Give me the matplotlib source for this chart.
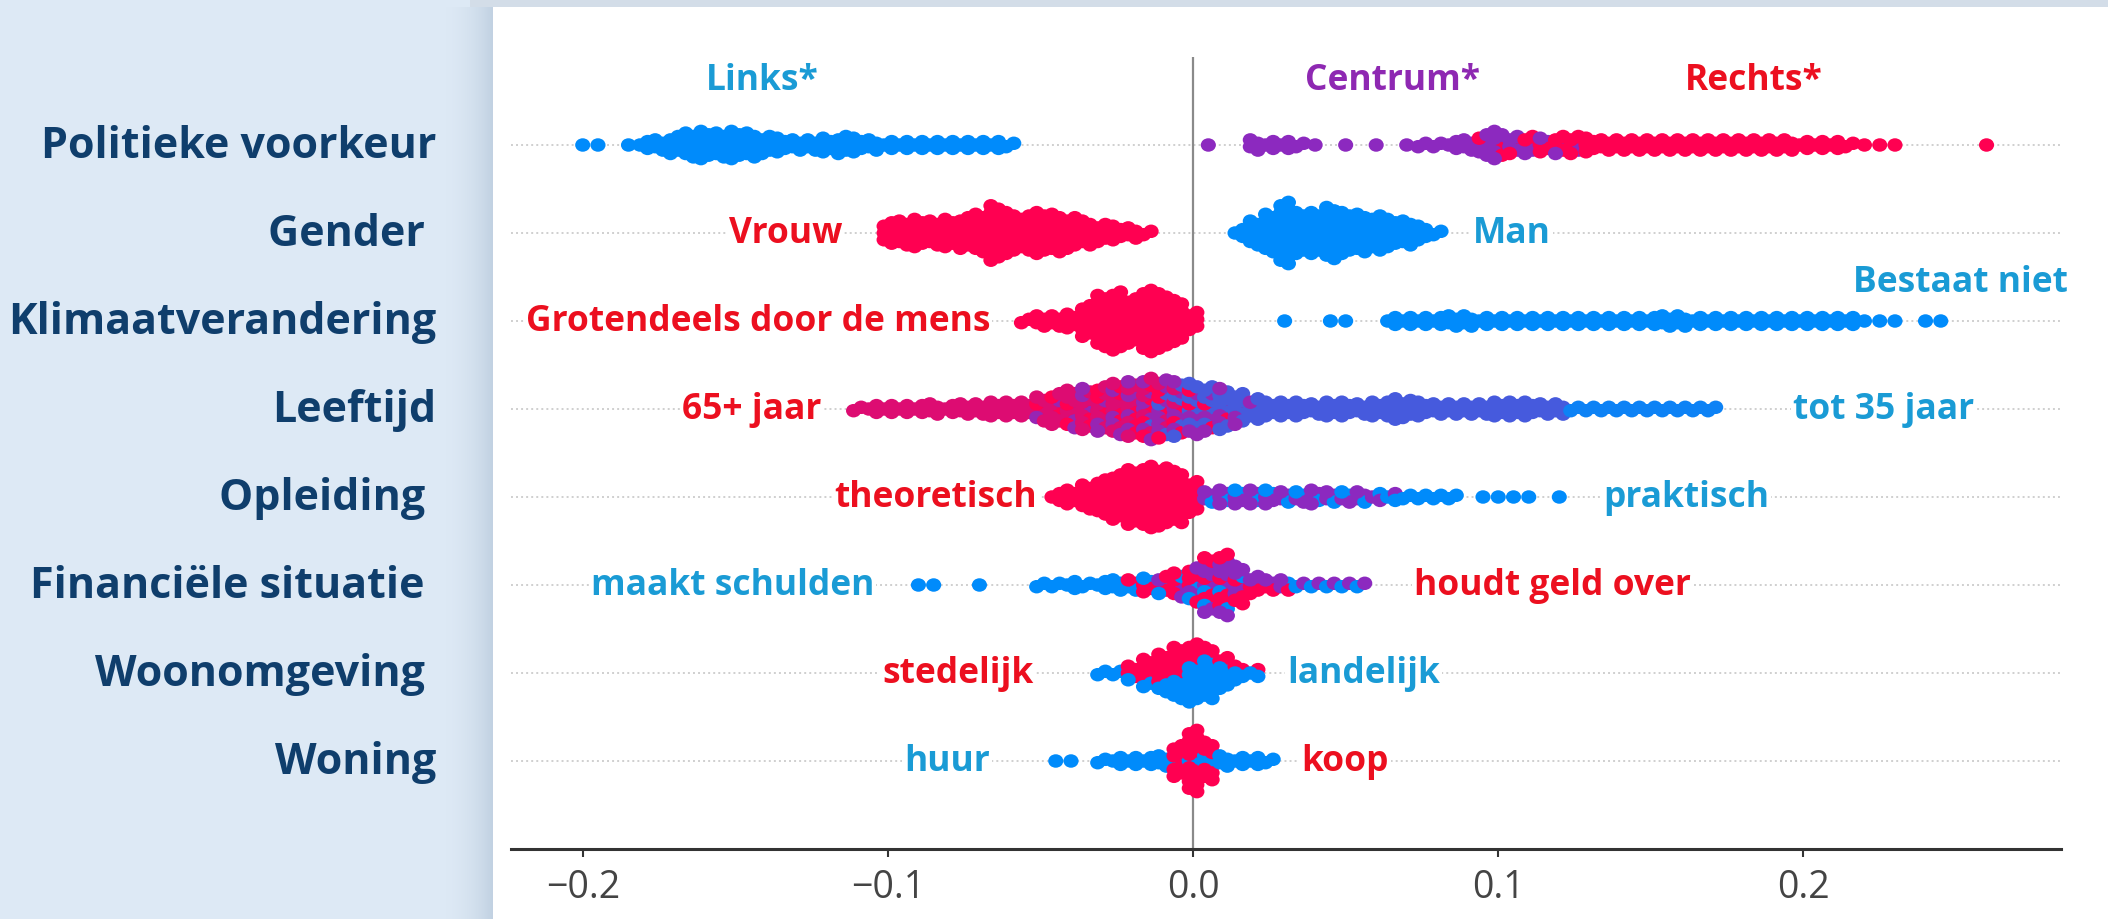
import numpy as np
import matplotlib
matplotlib.use("Agg")
import matplotlib.pyplot as plt
from matplotlib.colors import LinearSegmentedColormap
from matplotlib.patches import Rectangle
from matplotlib.path import Path
from matplotlib.markers import MarkerStyle
from matplotlib.transforms import Affine2D, ScaledTranslation

# ---------------------------------------------------------------- data
features = ["Politieke voorkeur", "Gender ", "Klimaatverandering", "Leeftijd",
            "Opleiding ", "Financiële situatie ", "Woonomgeving ", "Woning"]
xticks = [-0.2, -0.1, 0.0, 0.1, 0.2]
xtick_labels = ["−0.2", "−0.1", "0.0", "0.1", "0.2"]
bin_width = 0.005   # SHAP value bins of the swarm

# number of respondents (dots) per SHAP bin, per feature-value group
pol_links = [1, 1, 0, 1, 3, 4, 6, 8, 9, 8, 9, 8, 6, 5, 4, 4, 5, 6, 5, 4,
             3, 3, 3, 3, 3, 3, 3, 3, 2]                       # from -0.200
pol_centrum = [1, 0, 0, 4, 3, 3, 2, 1, 0, 1, 0, 1, 0, 1, 2, 2, 3, 4, 6, 7,
               4, 3, 2, 2, 1]                                  # from 0.005
pol_rechts = [1, 2, 2, 3, 3, 4, 5, 5, 4, 4, 4, 4, 4, 4, 4, 4, 4, 4, 4, 4,
              4, 3, 3, 3, 2, 1, 1, 1, 0, 0, 0, 0, 0, 1]        # from 0.095

gen_vrouw = [7, 8, 9, 8, 9, 10, 12, 17, 13, 11, 13, 12, 10, 8, 6, 5, 4, 2]  # from -0.100
gen_man = [3, 8, 12, 19, 13, 13, 16, 13, 12, 11, 9, 8, 5, 2]               # from 0.015

klim_mens = [2, 4, 4, 5, 10, 16, 18, 14, 19, 17, 13, 6]       # from -0.055
klim_niet = [1, 0, 0, 1, 1, 0, 0, 3, 3, 3, 3, 4, 4, 3, 3, 3, 3, 3, 3, 3,
             3, 3, 3, 3, 3, 4, 4, 3, 3, 3, 3, 3, 3, 3, 3, 3, 3, 3, 1, 1,
             1, 0, 1, 1]                                       # from 0.030

age_65plus = [2, 3, 3, 3, 3, 4, 3, 4, 4, 5, 5, 5, 6, 7, 7, 7, 7, 7, 7, 6, 4, 2]  # from -0.110
age_old = [1, 2, 2, 3, 3, 4, 4, 5, 4, 3, 2, 2, 1]              # from -0.050
age_middle = [1, 1, 3, 3, 4, 5, 6, 7, 7, 6, 6, 5, 4, 3, 1]     # from -0.050
age_younger = [1, 3, 6, 8, 7, 8, 7, 6, 5, 5, 5, 4, 5, 5, 4, 5, 7, 6, 5, 4,
               4, 4, 4, 5, 5, 5, 4, 4]                         # from -0.015
age_to35 = [2, 2, 2, 2, 2, 2, 2, 2, 2, 2]                      # from 0.125

opl_theoretisch = [3, 5, 8, 11, 14, 17, 19, 18, 16, 10]        # from -0.045
opl_midden = [3, 4, 3, 4, 3, 3, 2, 4, 3, 2, 3, 2, 1]           # from 0.005
opl_praktisch = [1, 1, 2, 1, 2, 1, 2, 1, 1, 2, 1, 1, 2, 2, 2, 2, 2, 0, 1, 1,
                 1, 1, 0, 1]                                   # from 0.005

fin_schulden = [1, 1, 0, 0, 1, 0, 0, 0, 2, 2, 3, 2, 3, 4, 2, 2, 2, 2, 2, 2,
                2, 1, 0, 0, 1, 1, 1, 1, 1, 1]                  # from -0.090
fin_over = [2, 3, 3, 4, 5, 7, 8, 5, 3, 2, 1]                   # from -0.020
fin_midden = [1, 2, 4, 8, 9, 6, 3, 2, 2, 1, 1, 1, 1, 1]        # from -0.010

woon_stedelijk = [4, 7, 9, 10, 7, 4, 3, 2, 1]                  # from -0.020
woon_landelijk = [2, 2, 1, 2, 3, 6, 11, 12, 7, 3, 2]           # from -0.030

won_huur = [1, 1, 0, 2, 3, 3, 3, 4, 2, 3, 4, 4, 3, 3, 2]       # from -0.045
won_koop = [8, 16, 8]                                          # from -0.005

# (feature value for colour, centre of first bin, counts)
row_groups = {
    "Politieke voorkeur": [(0.0, -0.200, pol_links), (0.5, 0.005, pol_centrum),
                           (1.0, 0.095, pol_rechts)],
    "Gender ": [(1.0, -0.100, gen_vrouw), (0.0, 0.015, gen_man)],
    "Klimaatverandering": [(1.0, -0.055, klim_mens), (0.0, 0.030, klim_niet)],
    "Leeftijd": [(0.85, -0.110, age_65plus), (1.0, -0.050, age_old),
                 (0.55, -0.050, age_middle), (0.25, -0.015, age_younger),
                 (0.05, 0.125, age_to35)],
    "Opleiding ": [(1.0, -0.045, opl_theoretisch), (0.5, 0.005, opl_midden),
                   (0.0, 0.005, opl_praktisch)],
    "Financiële situatie ": [(0.0, -0.090, fin_schulden), (1.0, -0.020, fin_over),
                             (0.5, -0.010, fin_midden)],
    "Woonomgeving ": [(1.0, -0.020, woon_stedelijk), (0.0, -0.030, woon_landelijk)],
    "Woning": [(0.0, -0.045, won_huur), (1.0, -0.005, won_koop)],
}

# ---------------------------------------------------------------- style / layout
W, H = 2108, 920
BG = "#dde9f5"
NAVY = "#0f3e6c"
BLUE_T = "#1a9bd5"
RED_T = "#ec0f1f"
PURPLE_T = "#8e28b2"
row_mode = {"Woonomgeving ": "split", "Woning": "core"}

annotations = [
    ("Links*", -0.1412, 7.74, "center", BLUE_T),
    ("Centrum*", 0.0655, 7.74, "center", PURPLE_T),
    ("Rechts*", 0.1838, 7.74, "center", RED_T),
    ("Vrouw", -0.115, 6, "right", RED_T),
    ("Man", 0.0917, 6, "left", BLUE_T),
    ("Grotendeels door de mens", -0.0665, 5, "right", RED_T),
    ("Bestaat niet", 0.2867, 5.44, "right", BLUE_T),
    ("65+ jaar", -0.1219, 4, "right", RED_T),
    ("tot 35 jaar", 0.1966, 4, "left", BLUE_T),
    ("theoretisch", -0.0511, 3, "right", RED_T),
    ("praktisch", 0.1343, 3, "left", BLUE_T),
    ("maakt schulden", -0.1045, 2, "right", BLUE_T),
    ("houdt geld over", 0.0724, 2, "left", RED_T),
    ("stedelijk", -0.0524, 1, "right", RED_T),
    ("landelijk", 0.0308, 1, "left", BLUE_T),
    ("huur", -0.0665, 0, "right", BLUE_T),
    ("koop", 0.0354, 0, "left", RED_T),
]

plt.rcParams["font.family"] = ["Open Sans", "DejaVu Sans"]

cmap = LinearSegmentedColormap.from_list("shap_rb", ["#008bfb", "#8c29bf", "#ff0051"])

ROW_PX = 87.9
DY = 3.4 / ROW_PX


def layout_row(groups, mode):
    bins = {}
    for gi, (val, start, counts) in enumerate(groups):
        i0 = int(round(start / bin_width))
        for j, c in enumerate(counts):
            for i in range(c):
                bins.setdefault(i0 + j, []).append((gi, (i + 0.5) / c, val))
    xs, ys, vs = [], [], []
    for b in sorted(bins):
        items = bins[b]
        n = len(items)
        slots = [((k + 1) // 2) * (1 if k % 2 else -1) for k in range(n)]
        mid = (max(slots) + min(slots)) / 2
        if mode == "mix":
            items = sorted(items, key=lambda t: (t[1], t[0]))
        else:
            items = sorted(items, key=lambda t: (t[0], t[1]))
            if mode == "split":
                slots = sorted(slots, reverse=True)
        single = n == 1
        for k, (gi, f, val) in enumerate(items):
            lvl = abs(slots[k])
            sub = 0.0 if single else (-0.25 if lvl % 2 == 0 else 0.25)
            xs.append(b * bin_width + sub * bin_width)
            ys.append((slots[k] - mid) * DY)
            vs.append(val)
    return np.array(xs), np.array(ys), np.array(vs)


fig = plt.figure(figsize=(W / 100, H / 100), dpi=100, facecolor=BG)

# white panel, its shadow and top band
fig.add_artist(Rectangle((470 / W, 1 - 8 / H), 1, 8 / H, transform=fig.transFigure,
                         fc="#d3dde8", ec="none", zorder=-3))
sh = fig.add_axes([440 / W, 0, 54 / W, 1 - 8 / H])
sh.set_zorder(-2)
grad = np.zeros((1, 64, 4))
grad[..., 0], grad[..., 1], grad[..., 2] = 0.55, 0.64, 0.74
grad[..., 3] = np.linspace(0, 1, 64) ** 2 * 0.35
sh.imshow(grad, aspect="auto", extent=(0, 1, 0, 1))
sh.set_axis_off()
fig.add_artist(Rectangle((493 / W, 0), 1, 1 - 8 / H, transform=fig.transFigure,
                         fc="white", ec="none", zorder=-1))

ax = fig.add_axes([511 / W, 1 - 850 / H, (2061 - 511) / W, (850 - 58) / H])
ax.set_facecolor("none")
ax.set_xlim(-0.2235, 0.2844)
ax.set_ylim(-1.0, 8.0)

ell = MarkerStyle(Path.unit_circle().transformed(Affine2D().scale(1.12, 1.0)))

nrows = len(features)
for r, feat in enumerate(features):
    y0 = nrows - 1 - r
    ax.axhline(y0, color="#cfcfcf", lw=1.4, ls=(0, (1, 1.6)), zorder=1)
    xs, ys, vs = layout_row(row_groups[feat], row_mode.get(feat, "mix"))
    ax.scatter(xs, y0 + ys, c=vs, cmap=cmap, vmin=0, vmax=1, s=118,
               marker=ell, linewidths=0, zorder=3)

ax.axvline(0, color="#8a8a8a", lw=1.6, zorder=2)

for txt, x, y, ha, col in annotations:
    ax.text(x, y, txt, ha=ha, va="center", color=col, fontsize=25.5,
            fontweight="bold", zorder=5,
            bbox=dict(fc="white", ec="none", pad=1.5))

ax.set_yticks([nrows - 1 - r for r in range(nrows)])
ax.set_yticklabels(features, fontsize=31, fontweight="bold", color=NAVY)
ax.tick_params(axis="y", length=0, pad=54)
lift = ScaledTranslation(0, 4 / 100, fig.dpi_scale_trans)
for lab in ax.get_yticklabels():
    lab.set_transform(lab.get_transform() + lift)

ax.set_xticks(xticks)
ax.set_xticklabels(xtick_labels, fontsize=27, color="#444444")
ax.tick_params(axis="x", length=6, width=1.5, color="#333333", pad=8)

for s in ("left", "right", "top"):
    ax.spines[s].set_visible(False)
ax.spines["bottom"].set_color("#333333")
ax.spines["bottom"].set_linewidth(2.2)

fig.savefig("out.png", dpi=100, facecolor=BG)
